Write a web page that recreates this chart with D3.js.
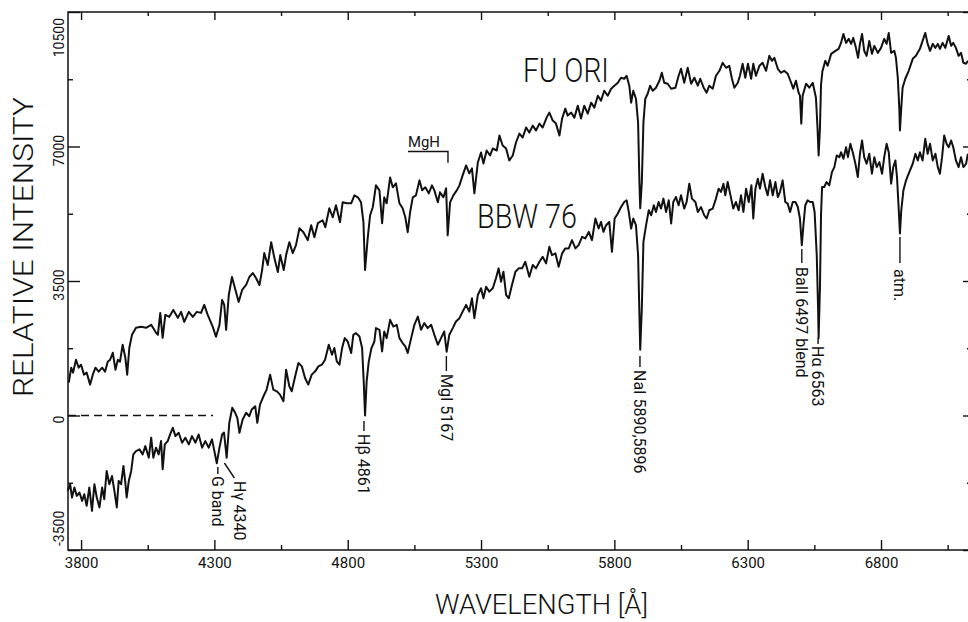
<!DOCTYPE html>
<html>
<head>
<meta charset="utf-8">
<script src="https://cdn.jsdelivr.net/npm/d3@7"></script>
<style>
  body { margin: 0; background: white; }
  .spec { fill: none; stroke: #111; stroke-width: 2; stroke-linejoin: round; }
  .frame { stroke: #111; stroke-width: 1.5; }
  .tick line { stroke: #111; stroke-width: 1.4; }
  .lead { stroke: #111; stroke-width: 1.4; fill: none; }
  text { font-family: Roboto, "DejaVu Sans", sans-serif; fill: #111; }
</style>
</head>
<body>
<script>
// tick values
var xMajor = [3800, 4300, 4800, 5300, 5800, 6300, 6800];
var xMinor = [4050, 4550, 5050, 5550, 6050, 6550, 7050];
var yMajor = [-3500, 0, 3500, 7000, 10500];
var yMinor = [-1750, 1750, 5250, 8750];

// FU Ori spectrum (wavelength in A, relative intensity)
var fuWave = [
  3754,3763,3770,3781,3791,3800,3811,3821,3834,3844, 3854,3866,3879,3890,3900,3909,3919,3929,3938,3946,
  3956,3966,3973,3981,3991,4006,4025,4044,4063,4079, 4088,4097,4106,4116,4131,4146,4163,4175,4187,4204,
  4219,4234,4250,4262,4275,4294,4306,4319,4329,4337, 4344,4354,4366,4379,4391,4404,4419,4431,4444,4456,
  4469,4479,4487,4500,4513,4525,4538,4547,4560,4569, 4581,4594,4606,4619,4634,4650,4663,4675,4688,4706,
  4716,4731,4744,4756,4771,4781,4796,4813,4825,4838, 4850,4859,4865,4875,4884,4894,4906,4919,4929,4937,
  4946,4959,4969,4981,4994,5006,5016,5025,5034,5044, 5056,5069,5079,5091,5104,5116,5125,5138,5146,5159,
  5169,5175,5184,5196,5209,5219,5231,5244,5256,5266, 5275,5288,5300,5309,5321,5334,5344,5359,5369,5381,
  5394,5406,5419,5431,5444,5456,5469,5481,5494,5506, 5519,5531,5546,5556,5569,5581,5594,5604,5616,5625,
  5638,5650,5663,5675,5687,5700,5713,5725,5738,5750, 5762,5775,5788,5800,5813,5825,5837,5846,5856,5863,
  5871,5881,5889,5894,5897,5903,5909,5916,5925,5934, 5944,5956,5969,5978,5987,6000,6013,6029,6041,6050,
  6062,6075,6088,6100,6113,6122,6135,6146,6156,6169, 6181,6194,6206,6219,6231,6241,6250,6263,6271,6281,
  6291,6301,6313,6321,6331,6344,6356,6369,6381,6391, 6400,6413,6425,6437,6450,6463,6471,6481,6491,
  6496,6501,6506, 6519,6531,6544,6556, 6562,6566,6571,6575,6580,
  6584,6591,6600,6613,6629,6641,6650,6659,6669,6679, 6688,6696,6706,6714,6721,6729,6737,6746,6756,6766,
  6775,6788,6800,6812,6821,6829,6838,6850,6856,6863, 6869,6871,6876,6881,6891,6904,6919,6931,6946,6956,
  6966,6975,6984,6994,7004,7013,7021,7031,7041,7054, 7063,7071,7081,7091,7100,7109,7119,7126
];
var fuFlux = [
  856,1244,1115,1452,1244,1322,1063,1115,804,1063, 1244,1141,1244,1141,1400,1452,1633,1193,1452,1400,
  1841,1504,1063,1763,2100,2281,2307,2281,2359,2178, 2100,2670,2022,2619,2567,2748,2541,2696,2437,2696,
  2567,2696,2670,2878,2619,2307,2048,2359,3007,2878, 2230,3137,3604,3267,2956,3267,3396,3604,3707,3578,
  3396,3785,4226,3915,4511,4096,3733,4174,3785,4174, 4511,4226,4433,4874,4770,4563,4952,4641,5004,5081,
  4900,5393,5159,5470,5030,5548,5522,5522,5730,5678, 5548,5030,3785,4615,5211,5419,5989,5859,5004,5678,
  5522,6196,5937,6041,5522,5393,5159,4770,5289,5678, 5730,6119,5859,5937,5781,5989,5859,5548,5807,5678,
  5911,4693,5548,5730,5859,5989,6248,6507,6300,6430, 5781,6585,6844,6559,6896,6767,6948,6896,7285,7026,
  6948,6637,6767,7104,7337,7233,7493,7363,7544,7415, 7596,7493,7752,7882,7674,7596,7285,7726,7985,7804,
  7882,7752,8063,7726,8063,7856,8141,8011,8322,8193, 8452,8322,8504,8582,8659,8789,8763,8841,8582,8141,
  8452,8244,7622,6067,5393,6067,7622,8244,8374,8582, 8452,8530,8711,8919,8659,8633,8504,8530,8841,9022,
  8659,9048,8633,8789,8582,8763,8530,8400,8582,8504, 8841,8970,9178,9048,9100,8763,8530,8659,8841,9152,
  8789,9152,8763,9152,8841,9100,9178,8970,9359,9230, 9307,9022,8919,8970,8893,8659,8504,8711,8400,
  8322,7596,8322, 8633,8530,8659,8270, 7467,6767,7467,8600,8950,
  9048,9230,9100,9411,9489,9541,9696,9930,9696,9800, 9670,9826,9567,9307,9670,9930,9489,9359,9748,9411,
  9619,9437,9567,9800,9670,9956,9437,9489,9307,8789, 7933,7415,8011,8530,8763,8970,9281,9359,9541,9748,
  9956,9670,9489,9670,9567,9670,9541,9696,9567,9878, 9619,9696,9567,9359,9437,9178,9152,9230
];

// BBW 76 spectrum
var bbwWave = [
  3750,3759,3766,3775,3784,3794,3804,3812,3821,3831, 3841,3850,3859,3869,3879,3887,3896,3906,3916,3925,
  3934,3941,3950,3959,3966,3971,3979,3988,3996,4006, 4019,4031,4041,4054,4063,4071,4081,4091,4100,4106,
  4114,4125,4134,4144,4154,4166,4179,4191,4204,4216, 4229,4241,4254,4266,4279,4291,4300,4309,4319,4329,
  4336,4346,4356,4367,4378,4386,4394,4406,4419,4431, 4440,4453,4461,4471,4484,4496,4509,4521,4534,4546,
  4559,4569,4581,4590,4603,4615,4628,4640,4652,4665, 4678,4690,4703,4715,4729,4741,4750,4759,4769,4779,
  4789,4800,4813,4821,4831,4844,4854,4860,4865,4871, 4879,4889,4900,4906,4919,4929,4937,4946,4959,4971,
  4984,4994,5006,5016,5025,5038,5050,5063,5075,5087, 5100,5113,5125,5138,5150,5162,5171,5181,5194,5206,
  5219,5231,5244,5256,5266,5275,5288,5300,5309,5319, 5331,5344,5356,5366,5375,5384,5394,5404,5416,5429,
  5441,5454,5466,5481,5494,5506,5519,5531,5544,5556, 5566,5579,5591,5604,5616,5629,5641,5654,5666,5679,
  5691,5704,5716,5729,5741,5750,5759,5769,5781,5791, 5801,5813,5825,5837,5846,5854,5863,5871,5881,5889,
  5894,5897,5903,5909,5919,5929,5938,5948,5956,5966, 5975,5984,5994,6004,6013,6021,6031,6041,6050,6062,
  6071,6081,6091,6104,6113,6125,6137,6146,6156,6169, 6181,6191,6200,6209,6216,6225,6238,6246,6256,6266,
  6275,6284,6294,6304,6314,6321,6329,6338,6346,6356, 6366,6375,6384,6394,6404,6413,6421,6431,6441,6450,
  6459,6469,6479,6488,6496,6503,6509,6516,6525,6534, 6544,6551,6559,6564,6566,6571,6575,6579,6587,6596,
  6606,6616,6625,6634,6644,6650,6659,6669,6676,6685, 6694,6704,6713,6721,6729,6737,6746,6756,6766,6775,
  6784,6794,6804,6812,6821,6829,6838,6846,6854,6860, 6866,6871,6876,6884,6894,6906,6919,6929,6938,6946,
  6956,6966,6975,6984,6994,7004,7013,7021,7029,7037, 7046,7054,7063,7071,7081,7091,7100,7109,7119,7126
];
var bbwFlux = [
  -1963,-1789,-2134,-1874,-2092,-2004,-2222,-2048,-2351,-1874, -2481,-1789,-2134,-2393,-1874,-2178,-1444,-1789,-1574,-1963,
  -2393,-1703,-1789,-1314,-1745,-2134,-1703,-1444,-1011,-926, -881,-1011,-796,-1097,-578,-1097,-837,-1011,-666,-1400,
  -752,-666,-493,-319,-537,-449,-708,-578,-752,-537, -708,-493,-837,-666,-837,-622,-926,-1244,-837,-493,
  -441,-1097,-189,200,70,-60,-449,-104,70,-18, 156,241,-189,285,500,674,1063,674,630,544,
  371,1193,760,630,1019,1366,1278,977,804,1063, 1149,1278,1322,1452,1841,1581,1755,1408,1322,1755,
  2014,1926,1626,2100,2144,2056,1755,889,0,889, 1408,1755,1926,2274,2230,1667,2186,2014,2489,2315,
  2359,2014,1885,1797,1626,2014,2359,2574,2230,2403, 2274,2359,2100,1841,2014,2186,1659,2100,2274,2445,
  2533,2704,2878,2704,3051,2533,3137,3311,3051,3352, 3223,3311,3570,3829,3482,3741,3137,3051,3396,3741,
  3829,3829,4000,3611,3915,3829,4000,4130,3959,4389, 4174,4218,3871,4218,4348,4348,4563,4348,4433,4649,
  4607,4778,4563,5126,4866,5037,4778,4952,5037,4260, 5126,5255,5426,5556,5600,5297,4866,5126,4952,4174,
  2619,1711,2792,4519,4952,5341,5211,5470,5297,5556, 5385,5644,5297,5600,4996,5556,5686,5470,5730,5385,
  5556,6033,5644,5556,5297,5426,5211,5126,5341,5385, 5644,5903,5815,6033,5730,6075,5644,5385,5556,5341,
  5730,5297,5903,5556,5989,5126,5903,6163,5903,6292, 5945,5730,6119,5730,6075,5686,5815,6119,5556,5514,
  5297,5556,5556,5426,5126,4433,4952,5470,5600,5556, 5556,5297,4174,2792,2014,3311,5211,5945,5945,6075,
  5989,6334,6463,6767,6723,6852,6681,6982,6723,7070, 6852,6551,6204,6811,7156,6723,6551,6811,6292,6723,
  6463,6593,6292,6723,7070,6852,6033,6463,6637,6204, 5426,4737,5341,5859,6119,6334,6551,6811,6637,6852,
  6637,7200,6811,7070,6637,6811,6463,6292,6723,7285, 7070,6982,7156,6982,6637,6463,6723,6463,6551,6811
];

// identified lines
var lineNames = ["G band", "Hγ 4340", "Hβ 4861", "MgI 5167", "NaI 5890,5896", "BaII 6497 blend", "Hα 6563", "atm."];
var lineWaves = [4313, 4345, 4861, 5170, 5896, 6503, 6564, 6871];

var width = 968, height = 622;
var plotL = 68, plotR = 973, plotT = 12, plotB = 550;

var x = d3.scaleLinear().domain([3751, 7145]).range([plotL, plotR]);
var y = d3.scaleLinear().domain([-3500, 10500]).range([plotB, plotT]);

var svg = d3.select("body").append("svg")
    .attr("width", width)
    .attr("height", height);

var line = d3.line()
    .x(function(d) { return x(d[0]); })
    .y(function(d) { return y(d[1]); });

// frame
svg.append("rect")
    .attr("class", "frame")
    .attr("x", plotL).attr("y", plotT)
    .attr("width", plotR - plotL).attr("height", plotB - plotT)
    .attr("fill", "none");

function noDomain(g) { g.select(".domain").remove(); }

svg.append("g").attr("transform", "translate(0," + plotB + ")")
    .call(d3.axisBottom(x).tickValues(xMajor).tickSize(-10).tickPadding(7).tickFormat(d3.format("d")))
    .call(noDomain)
    .attr("font-family", "Roboto, sans-serif").attr("font-size", 15);
svg.append("g").attr("transform", "translate(0," + plotB + ")")
    .call(d3.axisBottom(x).tickValues(xMinor).tickSize(-5).tickFormat(""))
    .call(noDomain);
svg.append("g").attr("transform", "translate(0," + plotT + ")")
    .call(d3.axisTop(x).tickValues(xMajor).tickSize(-8).tickFormat(""))
    .call(noDomain);
svg.append("g").attr("transform", "translate(0," + plotT + ")")
    .call(d3.axisTop(x).tickValues(xMinor).tickSize(-4).tickFormat(""))
    .call(noDomain);
svg.append("g").attr("transform", "translate(" + plotL + ",0)")
    .call(d3.axisLeft(y).tickValues(yMajor).tickSize(-12).tickFormat(""))
    .call(noDomain);
svg.append("g").attr("transform", "translate(" + plotL + ",0)")
    .call(d3.axisLeft(y).tickValues(yMinor).tickSize(-5).tickFormat(""))
    .call(noDomain);
svg.append("g").attr("transform", "translate(" + plotR + ",0)")
    .call(d3.axisRight(y).tickValues(yMajor).tickSize(-10).tickFormat(""))
    .call(noDomain);
svg.append("g").attr("transform", "translate(" + plotR + ",0)")
    .call(d3.axisRight(y).tickValues(yMinor).tickSize(-6).tickFormat(""))
    .call(noDomain);

// rotated y tick labels
svg.append("g").selectAll("text")
    .data(yMajor)
  .enter().append("text")
    .attr("transform", function(d, i) {
      var ty = i == 0 ? plotB - 4 : (i == yMajor.length - 1 ? plotT + 6 : y(d) + 4);
      return "translate(64," + ty + ") rotate(-90)";
    })
    .attr("text-anchor", function(d, i) { return i == 0 ? "start" : (i == yMajor.length - 1 ? "end" : "middle"); })
    .attr("font-size", 14)
    .text(function(d) { return d; });

// zero level of the lower spectrum
svg.append("line")
    .attr("x1", x(3751)).attr("x2", x(4295))
    .attr("y1", y(0)).attr("y2", y(0))
    .attr("stroke", "#111").attr("stroke-width", 1.5)
    .attr("stroke-dasharray", "8,5");

// spectra
svg.append("path").attr("class", "spec").attr("d", line(d3.zip(fuWave, fuFlux)));
svg.append("path").attr("class", "spec").attr("d", line(d3.zip(bbwWave, bbwFlux)));

// object names
svg.append("text").attr("x", x(5457)).attr("y", y(8678))
    .attr("font-size", 33).attr("font-weight", 300)
    .attr("textLength", 86).attr("lengthAdjust", "spacingAndGlyphs")
    .text("FU ORI");
svg.append("text").attr("x", x(5285)).attr("y", y(4879))
    .attr("font-size", 33).attr("font-weight", 300)
    .attr("textLength", 100).attr("lengthAdjust", "spacingAndGlyphs")
    .text("BBW 76");

// MgH band bracket
svg.append("path").attr("class", "lead")
    .attr("d", "M" + x(5026) + "," + y(6870) + "H" + x(5176) + "V" + y(6580));
svg.append("text").attr("x", x(5026)).attr("y", y(6870) - 4)
    .attr("font-size", 14).attr("textLength", 32).attr("lengthAdjust", "spacingAndGlyphs")
    .text("MgH");

// line identifications: leader top, leader bottom, text start (px)
var lead = [[467, 474, 476], [463, 478, 481], [421, 431, 434], [356, 371, 374],
            [356, 367, 370], [249, 263, 267], [338, 344, 346], [237, 263, 269]];
var ids = svg.append("g").selectAll("g")
    .data(lineNames)
  .enter().append("g");
ids.append("path").attr("class", "lead")
    .attr("d", function(d, i) {
      var lx = x(lineWaves[i]);
      if (i == 1) return "M" + (lx - 2) + "," + lead[i][0] + "L" + (lx + 8) + "," + lead[i][1];
      return "M" + lx + "," + lead[i][0] + "V" + lead[i][1];
    });
ids.append("text")
    .attr("transform", function(d, i) {
      var lx = x(lineWaves[i]) + (i == 1 ? 13 : 0);
      return "translate(" + lx + "," + lead[i][2] + ") rotate(90)";
    })
    .attr("dy", "0.35em")
    .attr("font-size", 16)
    .text(function(d) { return d; });

// axis titles
svg.append("text")
    .attr("transform", "translate(33,247) rotate(-90)")
    .attr("text-anchor", "middle")
    .attr("font-size", 28).attr("font-weight", 300)
    .attr("textLength", 300).attr("lengthAdjust", "spacingAndGlyphs")
    .text("RELATIVE INTENSITY");
svg.append("text")
    .attr("x", 435).attr("y", 614)
    .attr("font-size", 27).attr("font-weight", 300)
    .attr("textLength", 213).attr("lengthAdjust", "spacingAndGlyphs")
    .text("WAVELENGTH [Å]");
</script>
</body>
</html>
